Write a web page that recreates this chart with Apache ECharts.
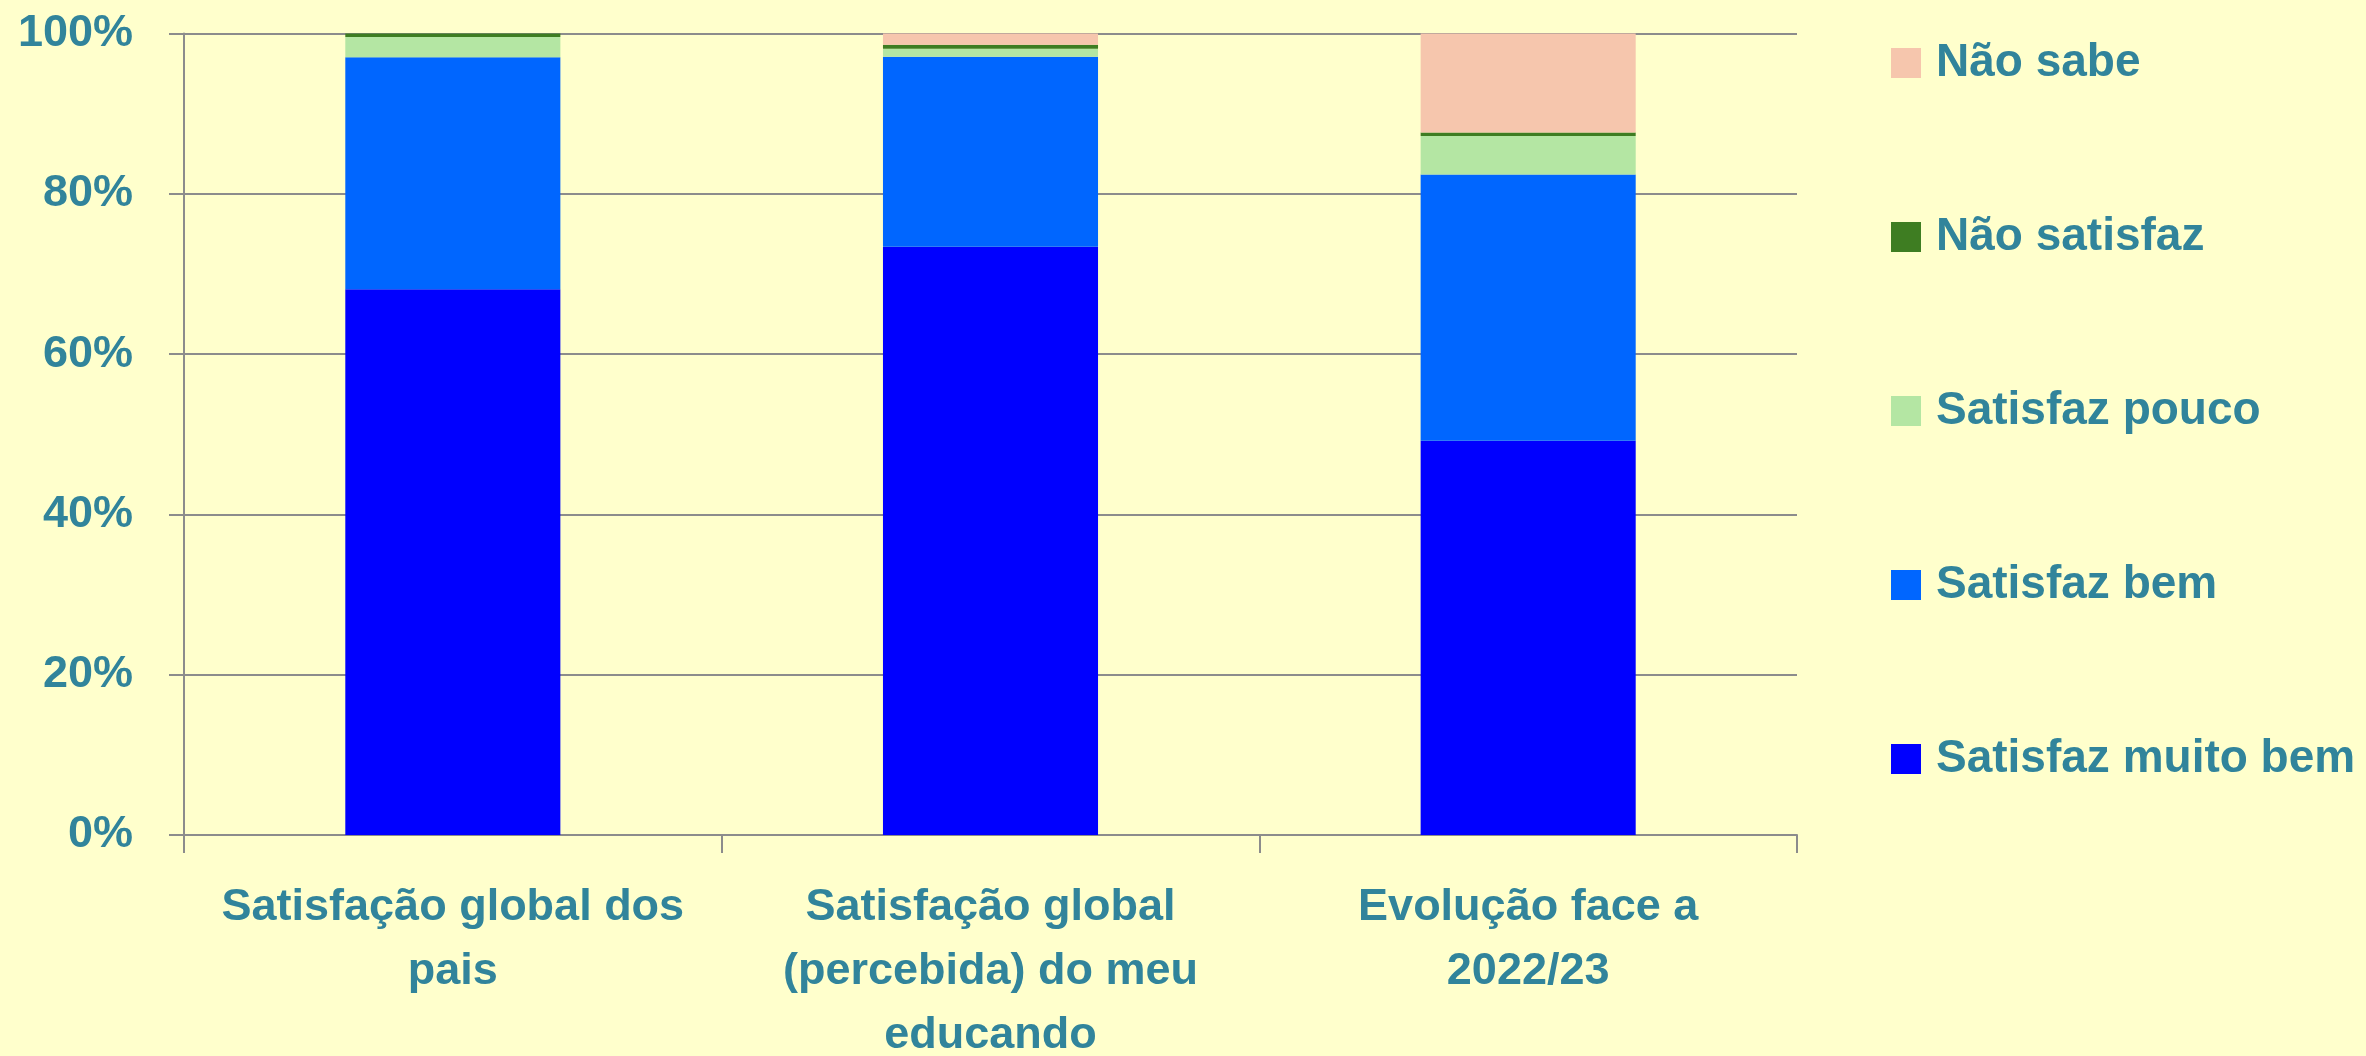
<!DOCTYPE html>
<html>
<head>
<meta charset="utf-8">
<script src="https://cdn.jsdelivr.net/npm/echarts@6/dist/echarts.min.js"></script>
<style>
    html, body { margin: 0; padding: 0; background: #FFFFCC; }
    #chart { width: 2366px; height: 1056px; }
</style>
</head>
<body>
<div id="chart"></div>
<script>
// categorias (eixo x)
var categorias = [
    'Satisfação global dos\npais',
    'Satisfação global\n(percebida) do meu\neducando',
    'Evolução face a\n2022/23'
];
var legendas = ['Não sabe', 'Não satisfaz', 'Satisfaz pouco', 'Satisfaz bem', 'Satisfaz muito bem'];

// valores em % (de baixo para cima)
var muitoBem    = [68.1, 73.4, 49.2];
var bem         = [28.95, 23.7, 33.2];
var pouco       = [2.5, 1.0, 4.8];
var naoSatisfaz = [0.45, 0.5, 0.46];
var naoSabe     = [0, 1.4, 12.34];

var corTexto = '#31849B';
var corEixo = '#8C8C8C';
var fonte = '"Liberation Sans", Arial, sans-serif';

function serie (nome, dados, cor) {
    return {
        name: nome,
        type: 'bar',
        stack: 'total',
        barWidth: '40%',
        data: dados,
        itemStyle: { color: cor }
    };
}

var chart = echarts.init(document.getElementById('chart'));
var option = {
    backgroundColor: '#FFFFCC',
    animation: false,
    grid: {
        left: 184,
        right: 569,
        top: 33.5,
        bottom: 221,
        containLabel: false,
        outerBoundsMode: 'none'
    },
    legend: {
        orient: 'vertical',
        left: 1891,
        top: 40,
        padding: 0,
        itemWidth: 30,
        itemHeight: 30,
        itemGap: 128,
        icon: 'rect',
        data: legendas,
        textStyle: {
            color: corTexto,
            fontFamily: fonte,
            fontWeight: 'bold',
            fontSize: 46,
            lineHeight: 46,
            padding: [0, 0, 0, 10]
        }
    },
    xAxis: {
        type: 'category',
        data: categorias,
        axisLine: { lineStyle: { color: corEixo, width: 2 } },
        axisTick: { show: true, length: 18, lineStyle: { color: corEixo, width: 2 } },
        axisLabel: {
            interval: 0,
            margin: 41,
            color: corTexto,
            fontFamily: fonte,
            fontWeight: 'bold',
            fontSize: 45,
            lineHeight: 64
        }
    },
    yAxis: {
        type: 'value',
        min: 0,
        max: 100,
        interval: 20,
        axisLine: { show: true, lineStyle: { color: corEixo, width: 2 } },
        axisTick: { show: true, length: 15, lineStyle: { color: corEixo, width: 2 } },
        splitLine: { show: true, lineStyle: { color: corEixo, width: 2 } },
        axisLabel: {
            margin: 51,
            formatter: '{value}%',
            color: corTexto,
            fontFamily: fonte,
            fontWeight: 'bold',
            fontSize: 45
        }
    },
    series: [
        serie('Satisfaz muito bem', muitoBem, '#0000FF'),
        serie('Satisfaz bem', bem, '#0066FF'),
        serie('Satisfaz pouco', pouco, '#B4E6A3'),
        serie('Não satisfaz', naoSatisfaz, '#3E7D22'),
        serie('Não sabe', naoSabe, '#F6C6AD')
    ]
};
chart.setOption(option);
</script>
</body>
</html>
